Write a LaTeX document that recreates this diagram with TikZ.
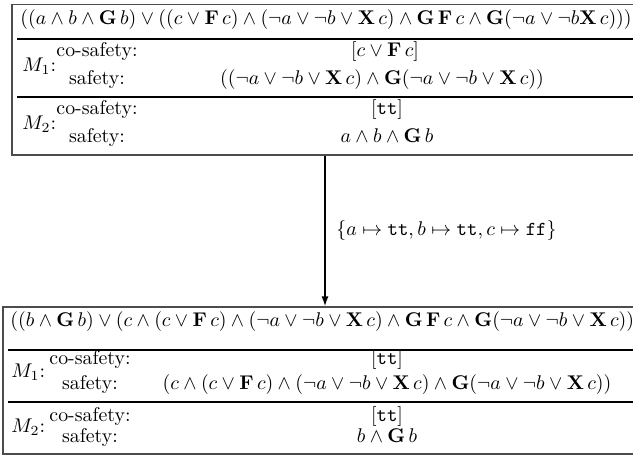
\documentclass[tikz,border=0pt]{standalone}
\usepackage{amsmath}
\usetikzlibrary{arrows.meta}
\newcommand{\opG}{\mathbf{G}\,}
\newcommand{\opF}{\mathbf{F}\,}
\newcommand{\opX}{\mathbf{X}\,}
\newcommand{\ttt}{\mathtt{tt}}
\newcommand{\tff}{\mathtt{ff}}
\begin{document}
\begin{tikzpicture}[x=0.504pt,y=-0.504pt,
  frame/.style={draw=black!70,line width=0.6pt,rectangle,inner sep=0pt},
  rulebar/.style={line width=1pt,black},
  txt/.style={anchor=base,inner sep=0pt},
  lbl/.style={anchor=base west,inner sep=0pt},
  conn/.style={line width=0.8pt,-{Latex[length=5pt,width=3.5pt]}}]
\useasboundingbox (0,0) rectangle (633,460);
% top box
\node[frame,minimum width=626*0.504pt,minimum height=150.5*0.504pt] (B1) at (325,79.75) {};
\draw[rulebar] (17,39) -- (650,39);
\draw[rulebar] (17,97) -- (650,97);
\node[lbl] (f1) at (20,25) {$((a \wedge b \wedge \opG b) \vee ((c \vee \opF c) \wedge (\neg a \vee \neg b \vee \opX c) \wedge \opG \opF c \wedge \mathbf{G}(\neg a \vee \neg b \opX c)))$};
\node[lbl] (m1a) at (22,72) {$M_1$:};
\node[txt] (cs1a) at (97,57) {co-safety:};
\node[txt] (s1a) at (97,85) {safety:};
\node[txt] (c1a) at (385,57) {$[c \vee \opF c]$};
\node[txt] (v1a) at (382,85) {$((\neg a \vee \neg b \vee \opX c) \wedge \mathbf{G}(\neg a \vee \neg b \vee \opX c))$};
\node[lbl] (m2a) at (22,130) {$M_2$:};
\node[txt] (cs2a) at (97,115) {co-safety:};
\node[txt] (s2a) at (97,143) {safety:};
\node[txt] (c2a) at (387,115) {$[\ttt]$};
\node[txt] (v2a) at (387,143) {$a \wedge b \wedge \opG b$};
% bottom box
\node[frame,minimum width=644*0.504pt,minimum height=147*0.504pt] (B2) at (325,380.5) {};
\draw[rulebar] (8,350) -- (650,350);
\draw[rulebar] (8,402) -- (650,402);
\node[lbl] (f2) at (10,327) {$((b \wedge \opG b) \vee (c \wedge (c \vee \opF c) \wedge (\neg a \vee \neg b \vee \opX c) \wedge \opG \opF c \wedge \mathbf{G}(\neg a \vee \neg b \vee \opX c)))$};
\node[lbl] (m1b) at (11,378) {$M_1$:};
\node[txt] (cs1b) at (90,365) {co-safety:};
\node[txt] (s1b) at (90,390) {safety:};
\node[txt] (c1b) at (387,365) {$[\ttt]$};
\node[txt] (v1b) at (387,390) {$(c \wedge (c \vee \opF c) \wedge (\neg a \vee \neg b \vee \opX c) \wedge \mathbf{G}(\neg a \vee \neg b \vee \opX c))$};
\node[lbl] (m2b) at (11,433) {$M_2$:};
\node[txt] (cs2b) at (90,422) {co-safety:};
\node[txt] (s2b) at (90,443) {safety:};
\node[txt] (c2b) at (387,422) {$[\ttt]$};
\node[txt] (v2b) at (387,443) {$b \wedge \opG b$};
% arrow
\draw[conn] (B1.south) -- node[right=2pt] (sub) {$\{a \mapsto \ttt, b \mapsto \ttt, c \mapsto \tff\}$} (B2.north);
\end{tikzpicture}
\end{document}
